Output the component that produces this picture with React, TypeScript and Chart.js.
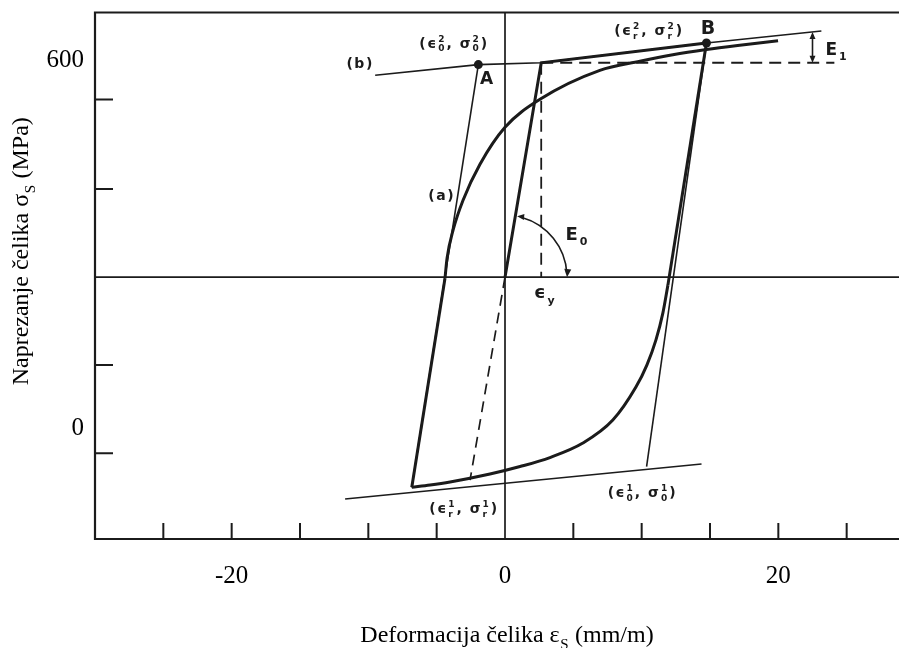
import React, { useEffect, useRef } from 'react';
import { Chart, registerables } from 'chart.js';
Chart.register(...registerables);

// ---- axis ranges (as labelled on the figure) ----
const X_MIN = -30;
const X_MAX = 30;
const Y_MIN = -181;
const Y_MAX = 678;

// ---- tick labels ----
const xTickLabels = [-20, 0, 20];
const yTickLabels = [0, 600];
// tick marks of the scanned drawing (inside the frame)
const figXTicks = [-25, -20, -15, -10, -5, 5, 10, 15, 20, 25];
const figYTicks = [536, 390, 103, -41];
// the drawing's own stress / strain axes
const drawingZeroStress = 246.2;
const drawingZeroStrain = 0;

// ---- series ----
// hardening asymptote (b)
const asymUpperX = [-9.5, -1.95, 2.65, 14.74, 23.15];
const asymUpperY = [575.6, 593.0, 596.0, 628.2, 647.8];
// lower asymptote
const asymLowerX = [-11.7, 14.38];
const asymLowerY = [-115.8, -58.7];
// elastic asymptote (a): reversal point 1 -> A
const elasticAX = [-6.82, -1.95];
const elasticAY = [-96.7, 593.0];
// elastic line B -> (eps0^1, sig0^1)
const elasticBX = [14.74, 10.36];
const elasticBY = [628.2, -63.1];
// monotonic loading: elastic branch then hardening to B
const monoX = [0, 2.65, 14.74];
const monoY = [246.2, 596.0, 628.2];
// unloading from B
const unloadLineX = [14.74, 11.92];
const unloadLineY = [628.2, 233.2];
const unloadCurveX = [11.92, 11.55, 11.04, 10.38, 9.58, 7.89, 5.7, 3.29, 1.1, -1.1, -4.02, -5.48, -6.82];
const unloadCurveY = [233.2, 187.5, 143.5, 102.7, 66.9, 13.0, -24.5, -48.1, -62.8, -75.0, -88.0, -93.0, -96.7];
// reloading from reversal point 1
const reloadLineX = [-6.82, -4.39];
const reloadLineY = [-96.7, 244.6];
const reloadCurveX = [-4.39, -4.24, -3.8, -3.07, -1.83, 0.0, 2.56, 6.94, 9.87, 12.28, 14.74, 17.18, 19.98];
const reloadCurveY = [244.6, 277.2, 322.8, 371.8, 430.5, 490.8, 536.4, 583.7, 598.4, 609.0, 617.5, 624.5, 631.8];
// dashed construction lines
const dashOriginX = [0, -2.56];
const dashOriginY = [246.2, -85];
const dashYieldVX = [2.65, 2.65];
const dashYieldVY = [596, 246.2];
const dashYieldHX = [2.65, 24.1];
const dashYieldHY = [596, 596];
// marked points A and B
const markX = [-1.95, 14.74];
const markY = [593.0, 628.2];
// E1 bracket
const e1X = 22.5;
const e1Y = [596, 646.3];

// ---- annotation texts ----
type Part = { t: string; sub?: string; sup?: string };
type Note = { x: number; y: number; parts: Part[]; size: number };
const notes: Note[] = [
  { x: -10.6, y: 595, parts: [{ t: '(b)' }], size: 14 },
  { x: -4.63, y: 380, parts: [{ t: '(a)' }], size: 14 },
  { x: -3.73, y: 629, parts: [{ t: '(ϵ', sub: '0', sup: '2' }, { t: ', σ', sub: '0', sup: '2' }, { t: ')' }], size: 14 },
  { x: -1.3, y: 571, parts: [{ t: 'A' }], size: 17 },
  { x: 10.53, y: 649, parts: [{ t: '(ϵ', sub: 'r', sup: '2' }, { t: ', σ', sub: 'r', sup: '2' }, { t: ')' }], size: 14 },
  { x: 14.91, y: 654, parts: [{ t: 'B' }], size: 19 },
  { x: 24.3, y: 618, parts: [{ t: 'E', sub: '1' }], size: 17 },
  { x: 5.3, y: 318, parts: [{ t: 'E', sub: '0' }], size: 18 },
  { x: 2.95, y: 222, parts: [{ t: 'ϵ', sub: 'y' }], size: 18 },
  { x: -3.0, y: -130, parts: [{ t: '(ϵ', sub: 'r', sup: '1' }, { t: ', σ', sub: 'r', sup: '1' }, { t: ')' }], size: 14 },
  { x: 10.05, y: -104, parts: [{ t: '(ϵ', sub: '0', sup: '1' }, { t: ', σ', sub: '0', sup: '1' }, { t: ')' }], size: 14 },
];
const xTitle: Part[] = [{ t: 'Deformacija čelika ε', sub: 'S' }, { t: ' (mm/m)' }];
const yTitle: Part[] = [{ t: 'Naprezanje čelika σ', sub: 'S' }, { t: ' (MPa)' }];

const INK = '#1b1b1b';
const SERIF = '"Liberation Serif", "Times New Roman", serif';
const SANS = '"DejaVu Sans", sans-serif';

const pts = (xs: number[], ys: number[]) => xs.map((x, i) => ({ x, y: ys[i] }));

function richWidth(ctx: CanvasRenderingContext2D, parts: Part[], size: number, family: string, weight: string) {
  let w = 0;
  for (const p of parts) {
    ctx.font = `${weight} ${size}px ${family}`;
    w += ctx.measureText(p.t).width;
    ctx.font = `${weight} ${Math.round(size * 0.62)}px ${family}`;
    const sw = Math.max(p.sub ? ctx.measureText(p.sub).width : 0, p.sup ? ctx.measureText(p.sup).width : 0);
    w += sw ? sw + 1 : 0;
  }
  return w;
}

function drawRich(
  ctx: CanvasRenderingContext2D, parts: Part[], x: number, baseline: number,
  size: number, family: string, weight: string, align: 'left' | 'center'
) {
  const total = richWidth(ctx, parts, size, family, weight);
  let cx = align === 'center' ? x - total / 2 : x;
  ctx.textAlign = 'left';
  ctx.textBaseline = 'alphabetic';
  for (const p of parts) {
    ctx.font = `${weight} ${size}px ${family}`;
    ctx.fillText(p.t, cx, baseline);
    cx += ctx.measureText(p.t).width;
    const small = Math.round(size * 0.62);
    ctx.font = `${weight} ${small}px ${family}`;
    let sw = 0;
    if (p.sub) { ctx.fillText(p.sub, cx + 0.5, baseline + size * 0.28); sw = Math.max(sw, ctx.measureText(p.sub).width); }
    if (p.sup) { ctx.fillText(p.sup, cx + 0.5, baseline - size * 0.42); sw = Math.max(sw, ctx.measureText(p.sup).width); }
    cx += sw ? sw + 1 : 0;
  }
  return total;
}

function arrowHead(ctx: CanvasRenderingContext2D, tipX: number, tipY: number, ang: number, len = 8, half = 3.5) {
  ctx.beginPath();
  ctx.moveTo(tipX, tipY);
  ctx.lineTo(tipX - len * Math.cos(ang) + half * Math.sin(ang), tipY - len * Math.sin(ang) - half * Math.cos(ang));
  ctx.lineTo(tipX - len * Math.cos(ang) - half * Math.sin(ang), tipY - len * Math.sin(ang) + half * Math.cos(ang));
  ctx.closePath();
  ctx.fill();
}

const decor = {
  id: 'decor',
  beforeDatasetsDraw(chart: any) {
    const { ctx, chartArea: a, scales } = chart;
    const sx = scales.x, sy = scales.y;
    ctx.save();
    ctx.strokeStyle = INK;
    ctx.lineWidth = 2.2;
    ctx.beginPath();
    ctx.moveTo(a.left, a.top); ctx.lineTo(a.right, a.top);
    ctx.moveTo(a.left, a.top - 1); ctx.lineTo(a.left, a.bottom + 1);
    ctx.moveTo(a.left, a.bottom); ctx.lineTo(a.right, a.bottom);
    ctx.stroke();
    ctx.lineWidth = 1.7;
    const y0 = sy.getPixelForValue(drawingZeroStress);
    const x0 = sx.getPixelForValue(drawingZeroStrain);
    ctx.beginPath();
    ctx.moveTo(a.left, y0); ctx.lineTo(a.right, y0);
    ctx.moveTo(x0, a.top); ctx.lineTo(x0, a.bottom);
    ctx.stroke();
    ctx.lineWidth = 2;
    ctx.beginPath();
    figXTicks.forEach((v) => { const p = sx.getPixelForValue(v); ctx.moveTo(p, a.bottom); ctx.lineTo(p, a.bottom - 16); });
    figYTicks.forEach((v) => { const p = sy.getPixelForValue(v); ctx.moveTo(a.left, p); ctx.lineTo(a.left + 18, p); });
    ctx.stroke();
    ctx.restore();
  },
  afterDatasetsDraw(chart: any) {
    const { ctx, chartArea: a, scales } = chart;
    const sx = scales.x, sy = scales.y;
    ctx.save();
    ctx.fillStyle = INK;
    ctx.strokeStyle = INK;
    // E0 arc around origin
    const ox = sx.getPixelForValue(monoX[0]), oy = sy.getPixelForValue(monoY[0]);
    const yx = sx.getPixelForValue(monoX[1]), yy = sy.getPixelForValue(monoY[1]);
    const lineAng = Math.atan2(yy - oy, yx - ox);
    const r = 62;
    const a0 = lineAng + 0.03;
    ctx.lineWidth = 1.6;
    ctx.beginPath();
    ctx.arc(ox, oy, r, a0 + 0.08, -0.06, false);
    ctx.stroke();
    arrowHead(ctx, ox + r, oy, Math.PI / 2 + 0.1);
    arrowHead(ctx, ox + r * Math.cos(a0), oy + r * Math.sin(a0), a0 - Math.PI / 2 - 0.1, 7, 3);
    // E1 bracket
    const bx = sx.getPixelForValue(e1X);
    const bTop = sy.getPixelForValue(e1Y[1]);
    const bBot = sy.getPixelForValue(e1Y[0]);
    ctx.beginPath();
    ctx.moveTo(bx, bTop + 6); ctx.lineTo(bx, bBot - 6);
    ctx.stroke();
    arrowHead(ctx, bx, bTop, -Math.PI / 2, 7, 3);
    arrowHead(ctx, bx, bBot, Math.PI / 2, 7, 3);
    // annotation labels
    (ctx as any).letterSpacing = '1.5px';
    for (const n of notes) {
      const px = sx.getPixelForValue(n.x);
      const py = sy.getPixelForValue(n.y);
      drawRich(ctx, n.parts, px, py + n.size * 0.36, n.size, SANS, 'bold', 'center');
    }
    (ctx as any).letterSpacing = '0px';
    // axis titles
    ctx.fillStyle = '#000';
    drawRich(ctx, xTitle, (a.left + sx.getPixelForValue(X_MAX)) / 2 + 2, a.bottom + 103, 24, SERIF, 'normal', 'center');
    ctx.save();
    ctx.translate(20, (a.top + a.bottom) / 2 - 24.5);
    ctx.rotate(-Math.PI / 2);
    drawRich(ctx, yTitle, 0, 0, 24, SERIF, 'normal', 'center');
    ctx.restore();
    ctx.restore();
  },
};

function line(data: { x: number; y: number }[], width: number, extra: any = {}) {
  return {
    data,
    showLine: true,
    borderColor: INK,
    backgroundColor: INK,
    borderWidth: width,
    pointRadius: 0,
    pointHoverRadius: 0,
    tension: 0,
    ...extra,
  };
}

export default function App() {
  const ref = useRef<HTMLCanvasElement | null>(null);
  useEffect(() => {
    document.body.style.overflow = 'hidden';
    const canvas = ref.current;
    if (!canvas) return;
    const chart = new Chart(canvas, {
      type: 'scatter',
      data: {
        datasets: [
          line(pts(asymUpperX, asymUpperY), 1.6),
          line(pts(asymLowerX, asymLowerY), 1.6),
          line(pts(elasticAX, elasticAY), 1.6),
          line(pts(elasticBX, elasticBY), 1.6),
          line(pts(dashOriginX, dashOriginY), 1.7, { borderDash: [11, 7] }),
          line(pts(dashYieldVX, dashYieldVY), 1.8, { borderDash: [12, 7] }),
          line(pts(dashYieldHX, dashYieldHY), 1.8, { borderDash: [12, 7] }),
          line(pts(monoX, monoY), 3),
          line(pts(unloadLineX, unloadLineY), 3),
          line(pts(unloadCurveX, unloadCurveY), 3, { cubicInterpolationMode: 'monotone' }),
          line(pts(reloadLineX, reloadLineY), 3),
          line(pts(reloadCurveX, reloadCurveY), 3, { cubicInterpolationMode: 'monotone' }),
          {
            data: pts(markX, markY),
            showLine: false,
            pointRadius: 4.5,
            pointBackgroundColor: INK,
            pointBorderColor: INK,
            pointBorderWidth: 0,
          },
        ],
      } as any,
      options: {
        animation: false,
        responsive: false,
        maintainAspectRatio: false,
        events: [],
        layout: { padding: { top: 4, right: 23, left: 0, bottom: 0 } },
        plugins: { legend: { display: false }, tooltip: { enabled: false } },
        scales: {
          x: {
            type: 'linear',
            min: X_MIN,
            max: X_MAX,
            afterBuildTicks: (s: any) => { s.ticks = xTickLabels.map((v) => ({ value: v })); },
            afterFit: (s: any) => { s.height = 109; s.paddingLeft = 0; s.paddingRight = 0; },
            grid: { display: false, drawTicks: false },
            border: { display: false },
            ticks: {
              color: '#000',
              font: { family: SERIF, size: 25 },
              padding: 22,
              maxRotation: 0,
              autoSkip: false,
            },
          },
          y: {
            type: 'linear',
            min: Y_MIN,
            max: Y_MAX,
            afterBuildTicks: (s: any) => { s.ticks = yTickLabels.map((v) => ({ value: v })); },
            afterFit: (s: any) => { s.width = 87; s.paddingTop = 0; s.paddingBottom = 0; },
            grid: { display: false, drawTicks: false },
            border: { display: false },
            ticks: {
              color: '#000',
              font: { family: SERIF, size: 25 },
              padding: 11,
              autoSkip: false,
            },
          },
        },
      } as any,
      plugins: [decor],
    });
    return () => chart.destroy();
  }, []);
  return (
    <div style={{ width: 899, height: 640, overflow: 'hidden', background: '#fff' }}>
      <canvas ref={ref} width={930} height={640} style={{ display: 'block', width: 930, height: 640 }} />
    </div>
  );
}
